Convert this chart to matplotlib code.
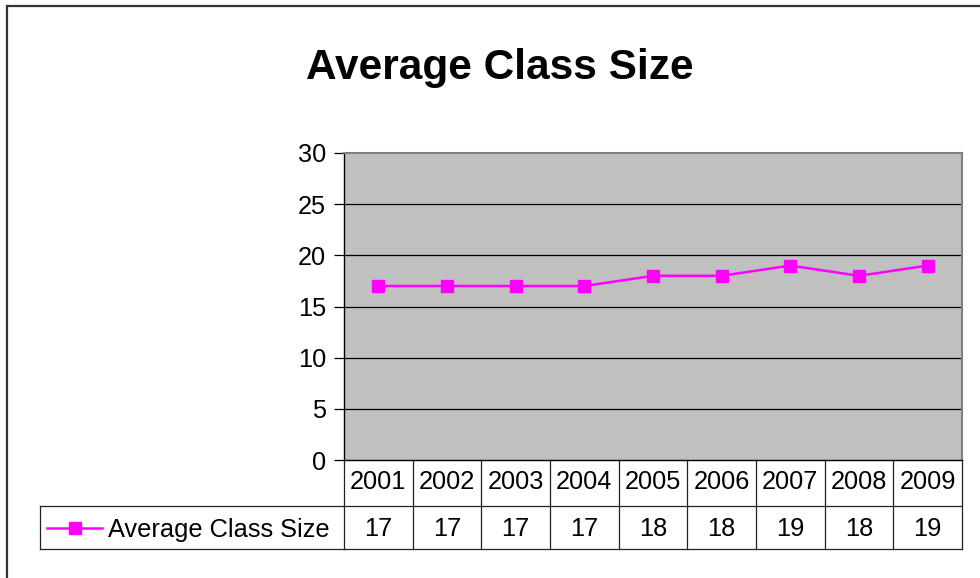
import matplotlib
matplotlib.use("Agg")
import matplotlib.pyplot as plt
from matplotlib.lines import Line2D
import matplotlib.transforms as mtransforms

plt.rcParams['font.family'] = ['Liberation Sans', 'DejaVu Sans']

years = ["2001", "2002", "2003", "2004", "2005", "2006", "2007", "2008", "2009"]
class_size = [17, 17, 17, 17, 18, 18, 19, 18, 19]
series_name = "Average Class Size"
y_ticks = [0, 5, 10, 15, 20, 25, 30]

W, H = 980, 578
fig = plt.figure(figsize=(W / 100, H / 100), dpi=100)

def fx(px):
    return px / W

def fy(py):
    return 1 - py / H

TXT = 18.3

# outer chart border (left and top visible)
fig.add_artist(Line2D([fx(7), fx(7)], [fy(6), fy(578)], color="#333333", lw=1.6,
                      transform=fig.transFigure))
fig.add_artist(Line2D([fx(7), fx(980)], [fy(6), fy(6)], color="#333333", lw=1.6,
                      transform=fig.transFigure))

left, right, top, bottom = 344, 962, 153, 460
ax = fig.add_axes([fx(left), fy(bottom), fx(right - left), (bottom - top) / H])
ax.set_facecolor("#C0C0C0")
x = list(range(len(years)))
ax.set_xlim(-0.5, len(years) - 0.5)
ax.set_ylim(0, 30)
for t in y_ticks[1:-1]:
    ax.axhline(t, color="black", lw=0.9, zorder=1)
ax.plot(x, class_size, color="#FF00FF", lw=1.8, marker="s", markersize=8.5,
        markeredgecolor="#FF00FF", zorder=3, clip_on=False)

ax.set_yticks(y_ticks)
ax.set_yticklabels([str(t) for t in y_ticks], fontsize=TXT)
ax.tick_params(axis="y", length=7, width=0.9, pad=6, color="black")
ax.set_xticks([])
for side in ["top", "right"]:
    ax.spines[side].set_color("#808080")
    ax.spines[side].set_linewidth(1.5)
ax.spines["left"].set_color("black")
ax.spines["left"].set_linewidth(1.0)
ax.spines["bottom"].set_color("black")
ax.spines["bottom"].set_linewidth(1.0)

fig.text(fx(500), fy(68), "Average Class Size", fontsize=30.5, fontweight="bold",
         ha="center", va="center")

# data table underneath the plot
trans = mtransforms.blended_transform_factory(ax.transData, fig.transFigure)
row1_top, row1_bot, row2_bot = 460, 506, 549
lc = "#222222"
lw = 0.9
xs_edges = [i - 0.5 for i in range(len(years) + 1)]
for xe in xs_edges:
    ax.add_line(Line2D([xe, xe], [fy(row1_top), fy(row2_bot)], color=lc, lw=lw,
                       transform=trans, clip_on=False))
ax.add_line(Line2D([xs_edges[0], xs_edges[-1]], [fy(row2_bot), fy(row2_bot)],
                   color=lc, lw=lw, transform=trans, clip_on=False))
ax.add_line(Line2D([xs_edges[0], xs_edges[-1]], [fy(row1_bot), fy(row1_bot)],
                   color=lc, lw=lw, transform=trans, clip_on=False))
# legend cell
fig.add_artist(Line2D([fx(40), fx(left)], [fy(row1_bot), fy(row1_bot)], color=lc, lw=lw,
                      transform=fig.transFigure))
fig.add_artist(Line2D([fx(40), fx(left)], [fy(row2_bot), fy(row2_bot)], color=lc, lw=lw,
                      transform=fig.transFigure))
fig.add_artist(Line2D([fx(40), fx(40)], [fy(row1_bot), fy(row2_bot)], color=lc, lw=lw,
                      transform=fig.transFigure))

y1 = fy(482)
y2 = fy(529.5)
for i, (yr, v) in enumerate(zip(years, class_size)):
    ax.text(i, y1, yr, transform=trans, ha="center", va="center", fontsize=TXT)
    ax.text(i, y2, str(v), transform=trans, ha="center", va="center", fontsize=TXT)

# legend key in the table
yk = fy(528)
fig.add_artist(Line2D([fx(47), fx(102)], [yk, yk], color="#FF00FF", lw=1.8,
                      transform=fig.transFigure))
fig.add_artist(Line2D([fx(74.5)], [yk], color="#FF00FF", marker="s", markersize=8.5,
                      transform=fig.transFigure))
fig.text(fx(108), y2, series_name, ha="left", va="center", fontsize=TXT)

fig.savefig("out.png", dpi=100, facecolor="white")
